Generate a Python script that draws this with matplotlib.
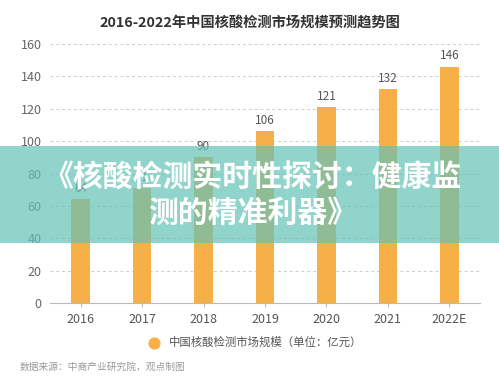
import matplotlib
matplotlib.use("Agg")
import matplotlib.pyplot as plt
from matplotlib.patches import Rectangle

plt.rcParams["font.family"] = ["Noto Sans CJK SC", "DejaVu Sans"]

years = ["2016", "2017", "2018", "2019", "2020", "2021", "2022E"]
market = [64, 71, 90, 106, 121, 132, 146]
y_ticks = [0, 20, 40, 60, 80, 100, 120, 140, 160]

title = "2016-2022年中国核酸检测市场规模预测趋势图"
legend_label = "中国核酸检测市场规模（单位：亿元）"
source = "数据来源：中商产业研究院，观点制图"
banner = "《核酸检测实时性探讨：健康监\n测的精准利器》"

orange = "#F7AF47"

fig = plt.figure(figsize=(4.99, 3.91), dpi=100)
ax = fig.add_axes([0.100, 0.225, 0.862, 0.6625])

x = range(len(years))
bars = ax.bar(x, market, width=0.3, color=orange, zorder=2)
for bar, v in zip(bars, market):
    ax.annotate(str(v), (bar.get_x() + bar.get_width() / 2, v),
                xytext=(0, 3), textcoords="offset points",
                ha="center", va="bottom", fontsize=8.5, color="#555555")

ax.set_xlim(-0.5, len(years) - 0.5)
ax.set_ylim(0, 160)
ax.set_yticks(y_ticks)
ax.set_xticks(list(x))
ax.set_xticklabels(years)
ax.tick_params(axis="y", length=0, labelsize=9, labelcolor="#666666", pad=6)
ax.tick_params(axis="x", length=3, color="#bbbbbb", labelsize=9,
               labelcolor="#555555", pad=4)
ax.yaxis.grid(True, linestyle=(0, (3, 3)), color="#cccccc", linewidth=0.7, zorder=0)
for s in ["top", "right", "left"]:
    ax.spines[s].set_visible(False)
ax.spines["bottom"].set_color("#bbbbbb")

fig.text(0.5, 0.941, title, ha="center", va="center", fontsize=10.3,
         color="#333333", fontweight="bold")

# overlay banner across the middle of the chart
fig.patches.append(Rectangle((0, 0.3785), 1, 0.2481, transform=fig.transFigure,
                             facecolor="#63C2B5", alpha=0.7, edgecolor="none",
                             zorder=5))
fig.text(0.507, 0.5025, banner, ha="center", va="center", fontsize=21.5,
         color="white", fontweight="heavy", linespacing=1.25, zorder=6)

ax.scatter([], [], s=60, color=orange, label=legend_label)
fig.legend(loc="center", bbox_to_anchor=(0.505, 0.125), frameon=False,
           fontsize=8.2, labelcolor="#555555", handletextpad=0.3,
           markerscale=1.0)

fig.text(0.04, 0.062, source, ha="left", va="center", fontsize=7,
         color="#999999")

fig.savefig("out.png", dpi=100)
